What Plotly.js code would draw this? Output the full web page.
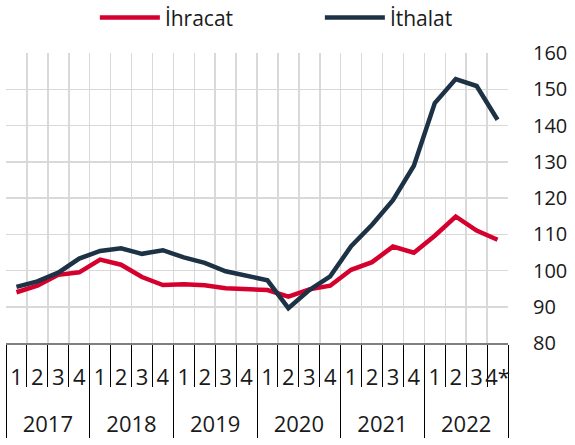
<!DOCTYPE html>
<html>
<head>
<meta charset="utf-8">
<script src="https://cdn.plot.ly/plotly-3.0.1.min.js"></script>
<style>html,body{margin:0;padding:0;background:#fff;}#chart{width:575px;height:445px;}</style>
</head>
<body>
<div id="chart"></div>
<script>
const years = ["2017","2018","2019","2020","2021","2022"];
const quarters = ["1","2","3","4"];
const lastQuarterLabel = "4*";
const ihracat = [94.0, 95.8, 98.8, 99.5, 103.0, 101.6, 98.2, 96.0, 96.2, 95.9, 95.1, 94.8,
                 94.6, 92.8, 94.8, 95.8, 100.2, 102.3, 106.6, 104.9, 109.6, 114.9, 111.0, 108.5];
const ithalat = [95.5, 97.0, 99.4, 103.3, 105.4, 106.1, 104.6, 105.6, 103.6, 102.1, 99.8, 98.5,
                 97.3, 89.6, 94.6, 98.4, 106.7, 112.6, 119.4, 128.9, 146.2, 152.8, 150.9, 141.6];

// year labels get a leading line break so they sit on a lower row
const xYears = [], xQuarters = [];
years.forEach((y, yi) => quarters.forEach((q, qi) => {
  xYears.push("<br>" + y);
  const last = yi === years.length - 1 && qi === quarters.length - 1;
  xQuarters.push(last ? lastQuarterLabel : q);
}));

const traces = [
  {x: [xYears, xQuarters], y: ihracat, name: "İhracat", type: "scatter", mode: "lines",
   line: {color: "#D6002F", width: 4.5}},
  {x: [xYears, xQuarters], y: ithalat, name: "İthalat", type: "scatter", mode: "lines",
   line: {color: "#1E3246", width: 4.5}}
];

const layout = {
  width: 575, height: 445,
  margin: {l: 6, r: 67, t: 53, b: 102},
  paper_bgcolor: "#fff", plot_bgcolor: "#fff",
  font: {family: "Open Sans", color: "#1a1a1a"},
  showlegend: true,
  legend: {orientation: "h", xref: "container", yref: "container", x: 0.165, xanchor: "left",
           y: 0.96, yanchor: "middle", font: {size: 21, family: "Open Sans"},
           itemwidth: 60, entrywidth: 150, entrywidthmode: "pixels"},
  xaxis: {type: "multicategory", tickmode: "linear", tick0: 0, dtick: 1, tickangle: 0,
          range: [-0.5, 23.5], autorange: false,
          showgrid: true, gridcolor: "#d9d9d9", gridwidth: 1.5,
          tickson: "boundaries", ticks: "outside", ticklen: 42, tickcolor: "#000", tickwidth: 1,
          ticklabelstandoff: 14,
          showline: true, linecolor: "#7f7f7f", linewidth: 1.5,
          showdividers: true, dividercolor: "#000", dividerwidth: 1,
          tickfont: {size: 22, family: "Open Sans", color: "#1a1a1a"}},
  yaxis: {range: [80, 160], dtick: 10, side: "right", showgrid: true, gridcolor: "#d9d9d9",
          gridwidth: 1.5, zeroline: false, ticks: "", ticklabelstandoff: 24,
          tickfont: {size: 20, family: "Open Sans", color: "#1a1a1a"}}
};

Plotly.newPlot("chart", traces, layout, {displayModeBar: false, staticPlot: true});
</script>
</body>
</html>
